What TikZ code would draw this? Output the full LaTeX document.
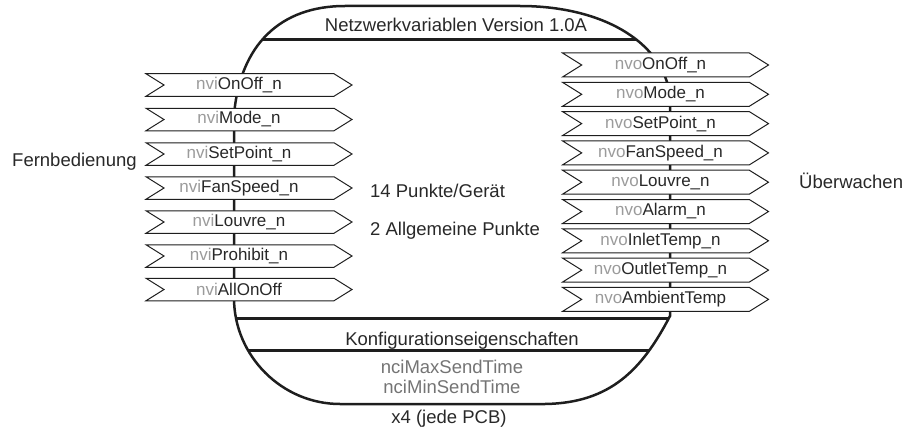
\documentclass[tikz,border=0pt]{standalone}
\usepackage{fontspec}
\setmainfont{Liberation Sans}
\usepackage{tikz}
\usetikzlibrary{shapes.symbols,positioning}
\definecolor{nvink}{RGB}{30,30,30}
\definecolor{nvtext}{RGB}{40,40,40}
\definecolor{nvgray}{RGB}{155,155,155}
\newcommand{\nvpart}[2]{\textcolor{nvgray}{#1}#2}
\newcommand{\contour}{(234,115) .. controls (240,45) and (280,6) .. (345,6)
  -- (520,6) .. controls (600,6) and (662,40) .. (670,95)
  -- (670,316) .. controls (642,370) and (610,403) .. (545,404)
  -- (340,404) .. controls (282,404) and (234,356) .. (234,298) -- cycle}
\tikzset{
  flag/.style={
    signal,
    signal from=west,
    signal to=east,
    signal pointer angle=64,
    draw=nvink,
    line width=1pt,
    fill=white,
    minimum width=206pt,
    inner sep=0pt,
    text=nvtext,
    font=\fontsize{17}{20}\selectfont
  },
  inflag/.style={flag, minimum height=22.5pt},
  outflag/.style={flag, minimum height=24pt},
  caption/.style={
    text=nvtext,
    inner sep=0pt,
    font=\fontsize{18.5}{22}\selectfont
  },
  ncitext/.style={caption, text=nvgray!75!black},
  outline/.style={draw=nvink, line width=2.5pt},
  divider/.style={draw=nvink, line width=3pt}
}

\begin{document}
\begin{tikzpicture}[x=1pt, y=-1pt]
  \useasboundingbox (0,0) rectangle (905,428);

  % body of the device
  \draw[outline] \contour;
  \begin{scope}
    \clip \contour;
    \coordinate (topl) at (200,40);
    \coordinate (topr) at (700,40);
    \coordinate (cfgl) at (200,318);
    \coordinate (cfgr) at (700,318);
    \coordinate (ncil) at (200,350);
    \coordinate (ncir) at (700,350);
    \draw[divider] (topl) -- (topr);
    \draw[divider] (cfgl) -- (cfgr);
    \draw[divider] (ncil) -- (ncir);
  \end{scope}

  \node[caption, anchor=base] (title) at (456,32) {Netzwerkvariablen Version 1.0A};
  \node[caption, anchor=base] (cfg) at (462,345) {Konfigurationseigenschaften};
  \node[ncitext, anchor=base] (maxsend) at (452,373) {nciMaxSendTime};
  \node[ncitext, anchor=base] (minsend) at (452,393) {nciMinSendTime};
  \node[caption, anchor=base] (pcb) at (449,423) {x4 (jede PCB)};

  \node[caption, anchor=base west] (points) at (370,197) {14 Punkte/Gerät};
  \node[caption, anchor=base west] (common) at (370,235) {2 Allgemeine Punkte};

  % inputs
  \node[caption, anchor=base west] (remote) at (12,166) {Fernbedienung};
  \node[inflag] (nviOnOff) at (249,85) {\nvpart{nvi}{OnOff\_n}\hspace*{20pt}};
  \node[inflag] (nviMode) at (249,119.5) {\nvpart{nvi}{Mode\_n}\hspace*{20pt}};
  \node[inflag] (nviSetPoint) at (249,154) {\nvpart{nvi}{SetPoint\_n}\hspace*{20pt}};
  \node[inflag] (nviFanSpeed) at (249,188) {\nvpart{nvi}{FanSpeed\_n}\hspace*{20pt}};
  \node[inflag] (nviLouvre) at (249,222) {\nvpart{nvi}{Louvre\_n}\hspace*{20pt}};
  \node[inflag] (nviProhibit) at (249,256) {\nvpart{nvi}{Prohibit\_n}\hspace*{20pt}};
  \node[inflag] (nviAllOnOff) at (249,289.5) {\nvpart{nvi}{AllOnOff}\hspace*{20pt}};

  % outputs
  \node[caption, anchor=base west] (monitor) at (799,188) {Überwachen};
  \node[outflag] (nvoOnOff) at (665.5,65) {\nvpart{nvo}{OnOff\_n}\hspace*{10pt}};
  \node[outflag] (nvoMode) at (665.5,94.3) {\nvpart{nvo}{Mode\_n}\hspace*{10pt}};
  \node[outflag] (nvoSetPoint) at (665.5,123.6) {\nvpart{nvo}{SetPoint\_n}\hspace*{10pt}};
  \node[outflag] (nvoFanSpeed) at (665.5,152.9) {\nvpart{nvo}{FanSpeed\_n}\hspace*{10pt}};
  \node[outflag] (nvoLouvre) at (665.5,182.2) {\nvpart{nvo}{Louvre\_n}\hspace*{10pt}};
  \node[outflag] (nvoAlarm) at (665.5,211.5) {\nvpart{nvo}{Alarm\_n}\hspace*{10pt}};
  \node[outflag] (nvoInletTemp) at (665.5,240.8) {\nvpart{nvo}{InletTemp\_n}\hspace*{10pt}};
  \node[outflag] (nvoOutletTemp) at (665.5,270.1) {\nvpart{nvo}{OutletTemp\_n}\hspace*{10pt}};
  \node[outflag] (nvoAmbientTemp) at (665.5,299.4) {\nvpart{nvo}{AmbientTemp}\hspace*{10pt}};
\end{tikzpicture}
\end{document}
